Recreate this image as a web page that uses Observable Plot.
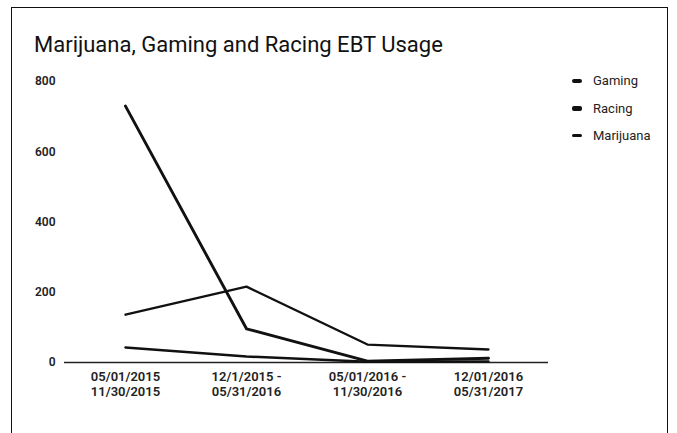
<!DOCTYPE html>
<html>
<head>
<meta charset="utf-8">
<script src="https://cdn.jsdelivr.net/npm/d3@7"></script>
<script src="https://cdn.jsdelivr.net/npm/@observablehq/plot@0.6"></script>
<style>
  html, body { margin: 0; padding: 0; background: #fff; }
  #wrap { position: relative; width: 677px; height: 433px; overflow: hidden; font-family: Roboto, "Noto Sans", sans-serif; }
  #frame { position: absolute; left: 11px; top: 7px; width: 657px; height: 440px; border: 1.5px solid #111; box-sizing: border-box; }
  #title { position: absolute; left: 34px; top: 32px; font-size: 22px; color: #111; white-space: nowrap; line-height: 1.2; }
  #chart { position: absolute; left: 0; top: 0; }
  #legend { position: absolute; left: 572px; top: 67px; font-size: 13px; color: #222; }
  .item { display: flex; align-items: center; height: 27.5px; }
  .sw { width: 10px; background: #111; margin-right: 11px; border-radius: 2px; }
</style>
</head>
<body>
<div id="wrap">
  <div id="frame"></div>
  <div id="chart"></div>
  <div id="title">Marijuana, Gaming and Racing EBT Usage</div>
  <div id="legend"></div>
</div>
<script>
const categories = ["P1", "P2", "P3", "P4"];
const tickLine1 = ["05/01/2015", "12/1/2015 -", "05/01/2016 -", "12/01/2016"];
const tickLine2 = ["11/30/2015", "05/31/2016", "11/30/2016", "05/31/2017"];
const seriesNames = ["Gaming", "Racing", "Marijuana"];
const gaming = [136, 216, 51, 37];
const racing = [43, 17, 2, 3];
const marijuana = [730, 96, 4, 12];
const yTicks = [0, 200, 400, 600, 800];

const seriesValues = [gaming, racing, marijuana];
const widths = {Gaming: 2.3, Racing: 2.5, Marijuana: 2.9};
const rows = [];
seriesNames.forEach((s, i) => categories.forEach((c, j) => rows.push({series: s, cat: c, value: seriesValues[i][j]})));
const labelOf = Object.fromEntries(categories.map((c, j) => [c, [tickLine1[j], tickLine2[j]]]));

const lines = seriesNames.map(s => Plot.line(rows.filter(d => d.series === s), {
  x: "cat", y: "value", stroke: "#111", strokeWidth: widths[s], strokeLinejoin: "round", strokeLinecap: "round"
}));

const chart = Plot.plot({
  width: 677,
  height: 433,
  marginLeft: 64,
  marginRight: 129,
  marginTop: 81,
  marginBottom: 71,
  style: {fontFamily: "Roboto, sans-serif", background: "transparent"},
  x: {type: "point", domain: categories, padding: 0.5, label: null},
  y: {domain: [0, 800], label: null},
  marks: [
    Plot.axisY({ticks: yTicks, tickSize: 0, tickPadding: 9, fontSize: 12, fill: "#222", fontWeight: 600, label: null}),
    Plot.axisX({tickSize: 0, tickPadding: 7, fontSize: 13, fill: "#222", fontWeight: 600, label: null,
      tickFormat: c => labelOf[c].join("\n"), lineHeight: 1.2}),
    Plot.ruleY([0], {stroke: "#222", strokeWidth: 1.5}),
    ...lines
  ]
});
document.getElementById("chart").appendChild(chart);

const legend = document.getElementById("legend");
const swH = {Gaming: 4, Racing: 5, Marijuana: 3};
seriesNames.forEach(s => {
  const it = document.createElement("div");
  it.className = "item";
  const sw = document.createElement("span");
  sw.className = "sw";
  sw.style.height = swH[s] + "px";
  const t = document.createElement("span");
  t.textContent = s;
  it.appendChild(sw); it.appendChild(t);
  legend.appendChild(it);
});
</script>
</body>
</html>
